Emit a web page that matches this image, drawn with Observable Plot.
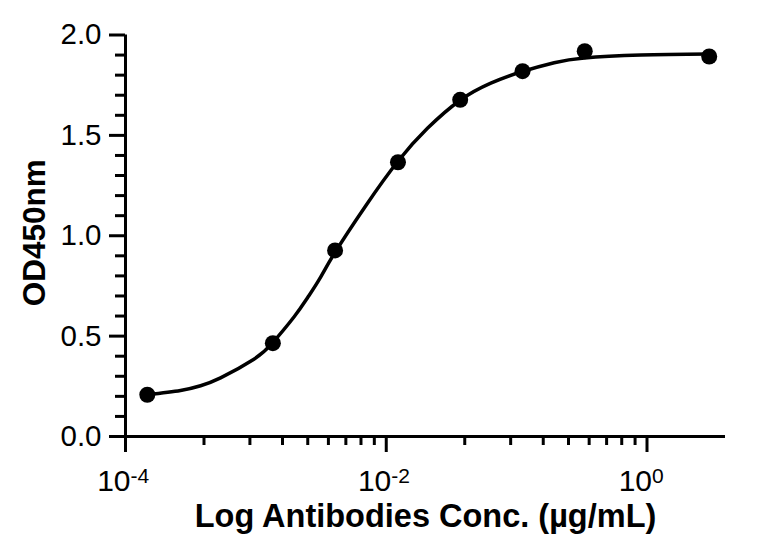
<!DOCTYPE html>
<html><head><meta charset="utf-8">
<script src="https://cdn.jsdelivr.net/npm/d3@7"></script>
<script src="https://cdn.jsdelivr.net/npm/@observablehq/plot@0.6"></script>
<style>html,body{margin:0;padding:0;background:#fff;} svg{display:block;}</style>
</head><body><div id="chart"></div>
<script>
// Measured data points (concentration in µg/mL, OD450)
const concentrations = [1.47e-4, 1.35e-3, 4.05e-3, 0.0123, 0.0369, 0.111, 0.333, 3.0];
const od450 = [0.208, 0.465, 0.927, 1.366, 1.677, 1.820, 1.919, 1.893];

// Fitted curve
const curveConc = [1.469e-4, 2.642e-4, 3.767e-4, 5.358e-4, 9.66e-4, 1.337e-3, 1.959e-3, 2.483e-3, 3.048e-3, 4.027e-3, 6.966e-3, 0.01225, 0.0207, 0.0369, 0.0634, 0.1104, 0.1941, 0.3304, 0.899, 2.958];
const curveOD = [0.208, 0.229, 0.253, 0.292, 0.385, 0.465, 0.595, 0.690, 0.780, 0.915, 1.150, 1.370, 1.535, 1.675, 1.760, 1.818, 1.862, 1.886, 1.900, 1.905];

const yMajorTicks = [0, 0.5, 1, 1.5, 2];
const yMinorTicks = [0.1, 0.2, 0.3, 0.4, 0.6, 0.7, 0.8, 0.9, 1.1, 1.2, 1.3, 1.4, 1.6, 1.7, 1.8, 1.9];
const xMajorTicks = [1e-4, 1e-2, 1];
const xMajorExponents = ["-4", "-2", "0"];
const xMinorTicks = [4e-4, 9e-4, 1.6e-3, 2.5e-3, 3.6e-3, 4.9e-3, 6.4e-3, 8.1e-3, 0.04, 0.09, 0.16, 0.25, 0.36, 0.49, 0.64, 0.81];
const xTitle = "Log Antibodies Conc. (µg/mL)";
const yTitle = "OD450nm";

const points = concentrations.map((c, i) => ({conc: c, od: od450[i]}));
const curve = curveConc.map((c, i) => ({conc: c, od: curveOD[i]}));
const xTickData = xMajorTicks.map((t, i) => ({t, e: xMajorExponents[i]}));

const chart = Plot.plot({
  width: 765, height: 551,
  marginLeft: 125, marginRight: 40, marginTop: 34.5, marginBottom: 115,
  style: {fontFamily: "'Liberation Sans', Arial, sans-serif", background: "#fff", color: "#000", overflow: "visible"},
  x: {type: "log", domain: [1e-4, 4]},
  y: {domain: [0, 2]},
  marks: [
    Plot.axisY({ticks: yMinorTicks, tickSize: 10, tickFormat: () => "", strokeWidth: 3, label: null}),
    Plot.axisY({ticks: yMajorTicks, tickSize: 16, tickPadding: 8, tickFormat: d3.format(".1f"), strokeWidth: 3, fontSize: 29.5, label: null}),
    Plot.axisX({ticks: xMinorTicks, tickSize: 9, tickFormat: () => "", strokeWidth: 3, label: null}),
    Plot.axisX({ticks: xMajorTicks, tickSize: 16, tickFormat: () => "", strokeWidth: 3, label: null}),
    Plot.ruleY([0], {strokeWidth: 3}),
    Plot.ruleX([1e-4], {strokeWidth: 3}),
    Plot.text(xTickData, {x: "t", text: () => "10", frameAnchor: "bottom", textAnchor: "end", lineAnchor: "bottom", dx: 5, dy: 54, fontSize: 30}),
    Plot.text(xTickData, {x: "t", text: "e", frameAnchor: "bottom", textAnchor: "start", lineAnchor: "bottom", dx: 5, dy: 46, fontSize: 21}),
    Plot.line(curve, {x: "conc", y: "od", curve: "natural", strokeWidth: 3.5}),
    Plot.dot(points, {x: "conc", y: "od", r: 8, fill: "#000"}),
    Plot.text([xTitle], {frameAnchor: "bottom", dy: 90, lineAnchor: "bottom", fontSize: 32.5, fontWeight: "bold"}),
    Plot.text([yTitle], {frameAnchor: "left", textAnchor: "middle", rotate: -90, dx: -91, dy: -3, fontSize: 31.5, fontWeight: "bold"})
  ]
});
document.getElementById("chart").appendChild(chart);
</script>
</body></html>
